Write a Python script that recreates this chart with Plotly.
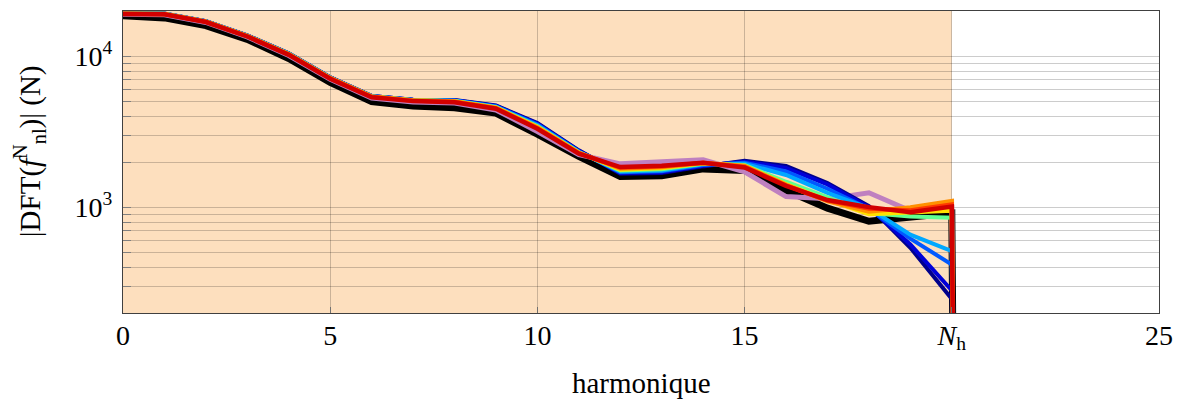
import plotly.graph_objects as go

# harmonics 0..20, the extra point past N_h is ~0 so the curves drop out of the log axis
harmonics = list(range(22))
tail = 1e-30

black = [18600, 18000, 16000, 12970, 9700, 6730, 5030, 4700, 4580, 4215, 3060, 2180,
         1604, 1620, 1800, 1760, 1300, 990, 810, 862, 917, tail]
purple = [19000, 18900, 16800, 13450, 10150, 7050, 5300, 5000, 4920, 4420, 3180, 2240,
          1945, 2020, 2070, 1720, 1180, 1140, 1250, 950, 1000, tail]
navy = [19350, 19250, 17150, 13800, 10500, 7280, 5480, 5170, 5140, 4730, 3620, 2390,
        1672, 1690, 1870, 2040, 1880, 1450, 1020, 541, 248, tail]
blue = [19300, 19200, 17100, 13750, 10450, 7260, 5470, 5160, 5120, 4700, 3580, 2370,
        1690, 1710, 1890, 2010, 1830, 1420, 1000, 569, 282, tail]
azure = [19300, 19200, 17100, 13750, 10450, 7250, 5460, 5150, 5100, 4670, 3540, 2350,
         1710, 1740, 1910, 1980, 1730, 1330, 980, 621, 419, tail]
lightblue = [19250, 19150, 17050, 13700, 10400, 7230, 5450, 5140, 5080, 4640, 3500, 2330,
             1730, 1760, 1930, 1950, 1640, 1250, 990, 660, 514, tail]
green = [19250, 19150, 17050, 13700, 10400, 7220, 5440, 5130, 5060, 4610, 3450, 2320,
         1760, 1790, 1950, 1910, 1480, 1160, 920, 870, 855, tail]
yellow = [19200, 19100, 17000, 13650, 10350, 7200, 5430, 5120, 5050, 4590, 3420, 2310,
          1780, 1820, 1960, 1890, 1430, 1120, 900, 930, 950, tail]
orange = [19200, 19100, 17000, 13650, 10350, 7190, 5420, 5110, 5030, 4560, 3380, 2300,
          1810, 1850, 1970, 1880, 1410, 1100, 940, 1000, 1100, tail]
redorange = [19150, 19050, 16950, 13600, 10300, 7150, 5400, 5090, 5010, 4540, 3350, 2290,
             1830, 1870, 1975, 1860, 1400, 1110, 980, 960, 1050, tail]
red = [19100, 19000, 16900, 13560, 10250, 7110, 5370, 5060, 4980, 4510, 3320, 2270,
       1850, 1890, 1980, 1840, 1390, 1120, 1005, 931, 1015, tail]

N_h = 20
x_ticks = [0, 5, 10, 15, 20, 25]
x_labels = ["0", "5", "10", "15", "<i>N</i><sub>h</sub>", "25"]
y_ticks = [200, 300, 400, 500, 600, 700, 800, 900,
           1000, 2000, 3000, 4000, 5000, 6000, 7000, 8000, 9000, 10000, 20000]
y_labels = ["" for v in y_ticks]
y_labels[y_ticks.index(1000)] = "10<sup>3</sup>"
y_labels[y_ticks.index(10000)] = "10<sup>4</sup>"

series = [
    (black, "black", 7),
    (purple, "#bf80c0", 5),
    (navy, "#00008c", 4),
    (blue, "#0000d8", 4),
    (azure, "#0058ff", 4),
    (lightblue, "#00a8ff", 4),
    (green, "#60ff90", 4),
    (yellow, "#ffe000", 4),
    (orange, "#ff9000", 4.5),
    (redorange, "#ff3800", 4),
    (red, "#d20000", 4.5),
]

fig = go.Figure()
for ys, col, w in series:
    fig.add_trace(go.Scatter(x=harmonics, y=ys, mode="lines",
                             line=dict(color=col, width=w), showlegend=False))

# shaded band up to N_h
fig.add_shape(type="rect", xref="x", yref="paper", x0=0, x1=N_h, y0=0, y1=1,
              fillcolor="rgba(247,150,40,0.30)", line_width=0, layer="below")

font = "Liberation Serif, Times New Roman, serif"
grid = "rgba(0,0,0,0.2)"
fig.update_layout(
    width=1180, height=403,
    margin=dict(l=123, r=21, t=11, b=90),
    plot_bgcolor="white", paper_bgcolor="white",
    font=dict(family=font, size=28, color="black"),
    showlegend=False,
)
fig.update_xaxes(
    range=[0, 25], tickvals=x_ticks, ticktext=x_labels,
    showgrid=True, gridcolor=grid, gridwidth=1,
    showline=True, linecolor="#404040", linewidth=1, mirror=True,
    ticks="inside", ticklen=6, tickcolor="#707070",
    zeroline=False, automargin=False, ticklabelstandoff=-3,
)
fig.update_yaxes(
    type="log", range=[2.301, 4.301], tickvals=y_ticks, ticktext=y_labels,
    showgrid=True, gridcolor=grid, gridwidth=1,
    showline=True, linecolor="#404040", linewidth=1, mirror=True,
    ticks="inside", ticklen=8, tickcolor="#808080",
    zeroline=False, automargin=False, ticklabelstandoff=4,
)

# axis titles
fig.add_annotation(text="harmonique", xref="paper", yref="paper", x=0.5, y=-0.232,
                   xanchor="center", yanchor="middle", showarrow=False,
                   font=dict(size=29))
fig.add_annotation(text="|DFT(<i>f</i><sup>N</sup><sub>nl</sub>)| (N)",
                   xref="paper", yref="paper", x=-0.09, y=0.535, textangle=-90,
                   xanchor="center", yanchor="middle", showarrow=False,
                   font=dict(size=29))

# drop the default 8px page margin so the figure fills the window
fig.write_html("out.html", config={"displayModeBar": False},
               post_script="document.body.style.margin='0px';")
